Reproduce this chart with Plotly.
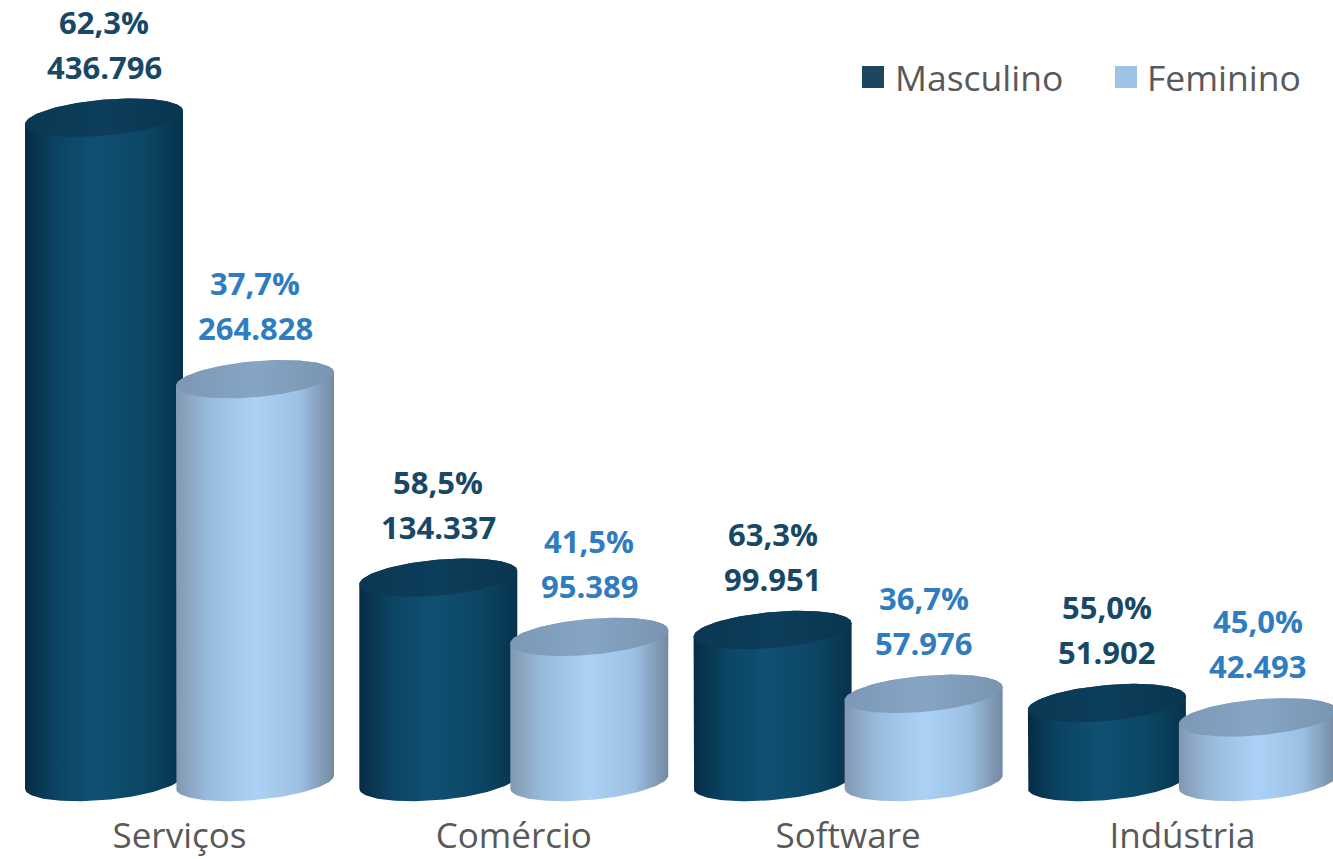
import numpy as np
import plotly.graph_objects as go

categories = ["Serviços", "Comércio", "Software", "Indústria"]
masc_values = [436796, 134337, 99951, 51902]
fem_values = [264828, 95389, 57976, 42493]
masc_pct = ["62,3%", "58,5%", "63,3%", "55,0%"]
fem_pct = ["37,7%", "41,5%", "36,7%", "45,0%"]
series_names = ["Masculino", "Feminino"]
series_colors = ["#1d4760", "#9dc3e6"]

# layout constants (pixel geometry of the drawing)
W, H = 1333, 859
MB = 52                      # bottom margin for category labels
PLOT_H = H - MB
PX_X = 334.3                 # pixels per category step
X0_PX = 179.5                # pixel of first category center
K = 0.001521                 # pixels per value unit
BASE_PX = 782                # pixel (from top) of value 0
OFF = 75.5 / PX_X            # cylinder offset from group center
A_PX = 79.0                  # cylinder half width, px
B_PX = 18.0                  # ellipse half height, px
SHEAR = 0.085                # tilt of ellipses

x_range = [-X0_PX / PX_X, (W - X0_PX) / PX_X]
y_range = [(BASE_PX - PLOT_H) / K, BASE_PX / K]

def fmt(v):
    return f"{v:,}".replace(",", ".")

def ell(cx, cy, t):
    ax = A_PX / PX_X
    return (cx + ax * np.cos(t),
            cy + (B_PX * np.sin(t) + SHEAR * A_PX * np.cos(t)) / K)

masc_body = [[0, "#062c44"], [0.2, "#0b4463"], [0.45, "#0f5071"], [0.75, "#0c4765"], [1, "#07324d"]]
masc_cap = [[0, "#0a3854"], [0.5, "#0c3d5a"], [1, "#093650"]]
fem_body = [[0, "#8298b0"], [0.2, "#98bbdc"], [0.5, "#abd2f6"], [0.78, "#9cc0e3"], [1, "#7489a0"]]
fem_cap = [[0, "#7c98b6"], [0.5, "#86a5c4"], [1, "#7894b1"]]

fig = go.Figure()

def cylinder(cx, v, body_cs, cap_cs, name):
    t_top = np.linspace(0, np.pi, 60)
    t_bot = np.linspace(np.pi, 2 * np.pi, 60)
    xt, yt = ell(cx, v, t_top)
    xb, yb = ell(cx, 0, t_bot)
    xs = np.concatenate([xt, xb, xt[:1]])
    ys = np.concatenate([yt, yb, yt[:1]])
    fig.add_trace(go.Scatter(x=xs, y=ys, mode="lines", fill="toself", name=name,
                             line=dict(width=0), fillgradient=dict(type="horizontal", colorscale=body_cs),
                             hoverinfo="skip", showlegend=False))
    t = np.linspace(0, 2 * np.pi, 120)
    xc, yc = ell(cx, v, t)
    fig.add_trace(go.Scatter(x=xc, y=yc, mode="lines", fill="toself", name=name,
                             line=dict(width=0), fillgradient=dict(type="horizontal", colorscale=cap_cs),
                             hoverinfo="skip", showlegend=False))

for i in range(len(categories)):
    cylinder(i - OFF, masc_values[i], masc_body, masc_cap, series_names[0])
    cylinder(i + OFF, fem_values[i], fem_body, fem_cap, series_names[1])

LABEL_FONT = "Open Sans"
for i in range(len(categories)):
    for cx, v, pct, col in [(i - OFF, masc_values[i], masc_pct[i], "#174866"),
                            (i + OFF, fem_values[i], fem_pct[i], "#2f7cc0")]:
        fig.add_annotation(x=cx, y=v, text=f"<b>{fmt(v)}</b>", showarrow=False,
                           yanchor="middle", yshift=51,
                           font=dict(family=LABEL_FONT, size=31, color=col))
        fig.add_annotation(x=cx, y=v, text=f"<b>{pct}</b>", showarrow=False,
                           yanchor="middle", yshift=96,
                           font=dict(family=LABEL_FONT, size=31, color=col))

# legend (drawn manually for exact glyph size)
def px_x(p):
    return p / W

def px_y(p):
    return (PLOT_H - p) / PLOT_H

legend_sq_x = [862, 1115]
legend_tx_x = [893, 1145]
for name, col, sx, tx in zip(series_names, series_colors, legend_sq_x, legend_tx_x):
    fig.add_shape(type="rect", xref="paper", yref="paper",
                  x0=px_x(sx), x1=px_x(sx + 22), y0=px_y(88), y1=px_y(66),
                  fillcolor=col, line=dict(width=0))
    fig.add_annotation(xref="paper", yref="paper", x=px_x(tx), y=px_y(77),
                       xanchor="left", yanchor="middle", showarrow=False, text=name,
                       font=dict(family=LABEL_FONT, size=35.5, color="#595959"))

fig.update_layout(
    width=W, height=H,
    margin=dict(l=0, r=0, t=0, b=MB, autoexpand=False),
    paper_bgcolor="white", plot_bgcolor="white",
    showlegend=False,
    xaxis=dict(range=x_range, showgrid=False, zeroline=False, showline=False,
               tickmode="array", tickvals=list(range(len(categories))), ticktext=categories,
               ticks="", ticklabelstandoff=5, automargin=False,
               tickfont=dict(family=LABEL_FONT, size=35, color="#595959"),
               fixedrange=True),
    yaxis=dict(range=y_range, showgrid=False, zeroline=False, showline=False,
               showticklabels=False, fixedrange=True, automargin=False),
)

fig.write_html("out.html", config={"displayModeBar": False},
               post_script=["document.body.style.margin='0';document.body.style.overflow='hidden';"])
